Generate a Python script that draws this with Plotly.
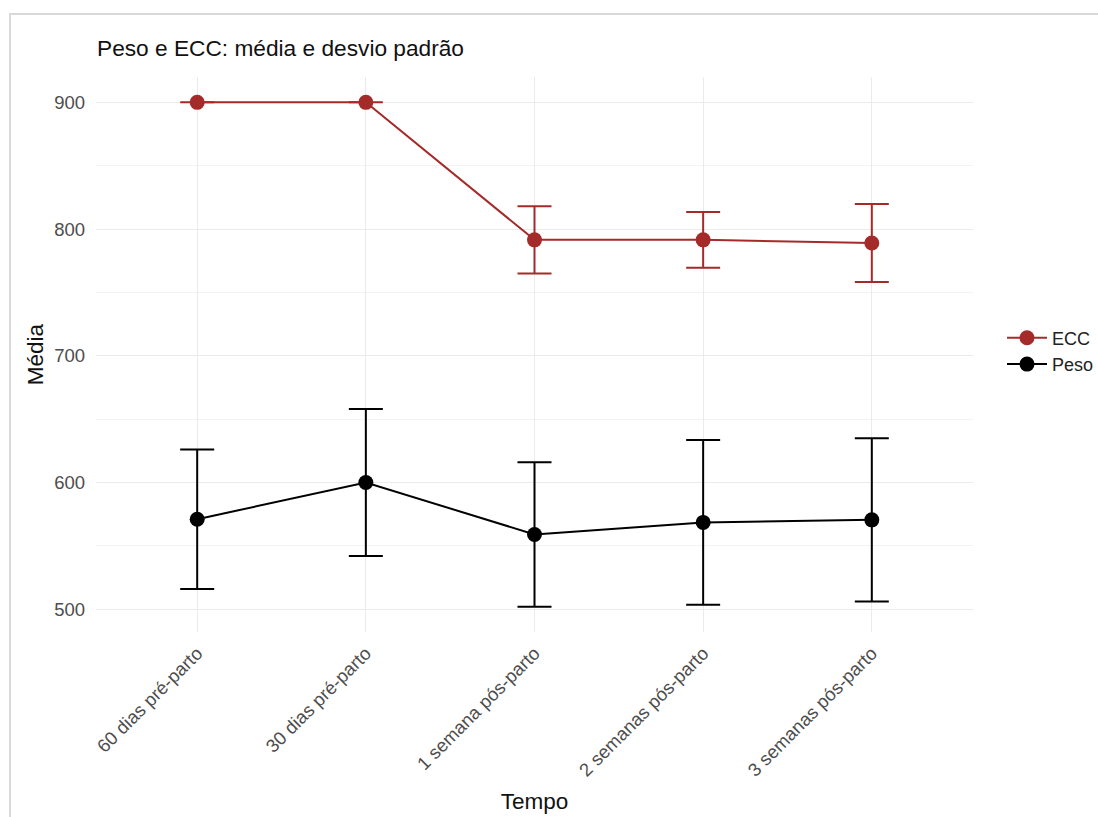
import plotly.graph_objects as go

# Time points of the study
tempo = [
    "60 dias pré-parto",
    "30 dias pré-parto",
    "1 semana pós-parto",
    "2 semanas pós-parto",
    "3 semanas pós-parto",
]

# ECC: mean and standard deviation
ecc_media = [900, 900, 791.5, 791.5, 789]
ecc_dp = [0, 0, 26.5, 22, 30.7]

# Peso: mean and standard deviation
peso_media = [571, 600, 559, 568.5, 570.5]
peso_dp = [55, 58, 57, 65, 64.5]

FONT = "Liberation Sans, Arial, sans-serif"
ECC_COLOR = "#a52a2a"
PESO_COLOR = "#000000"
GRID = "#ebebeb"

fig = go.Figure()

for nome, media, dp, cor in [
    ("ECC", ecc_media, ecc_dp, ECC_COLOR),
    ("Peso", peso_media, peso_dp, PESO_COLOR),
]:
    fig.add_trace(
        go.Scatter(
            x=tempo,
            y=media,
            name=nome,
            mode="lines+markers",
            line=dict(color=cor, width=2),
            marker=dict(color=cor, size=15),
            error_y=dict(
                type="data",
                array=dp,
                visible=True,
                color=cor,
                thickness=2,
                width=17,
            ),
        )
    )

# light frame around the figure
fig.add_shape(
    type="rect",
    xref="paper",
    yref="paper",
    x0=(10 - 96) / 877,
    x1=1.3,
    y0=-0.5,
    y1=(632 - 14) / 555,
    line=dict(color="#d9d9d9", width=2),
    fillcolor="rgba(0,0,0,0)",
    layer="below",
)

fig.update_layout(
    width=1098,
    height=817,
    margin=dict(l=96, r=125, t=77, b=185),
    paper_bgcolor="white",
    plot_bgcolor="white",
    font=dict(family=FONT, color="#4d4d4d", size=18),
    title=dict(
        text="Peso e ECC: média e desvio padrão",
        x=97 / 1098,
        xanchor="left",
        y=1 - 48 / 817,
        yanchor="middle",
        font=dict(family=FONT, size=22.7, color="#111111"),
    ),
    showlegend=True,
    legend=dict(
        xref="container",
        yref="container",
        x=1002 / 1098,
        xanchor="left",
        y=1 - 351 / 817,
        yanchor="middle",
        itemwidth=40,
        font=dict(family=FONT, size=18, color="#222222"),
        bgcolor="rgba(0,0,0,0)",
    ),
    xaxis=dict(
        type="category",
        range=[-0.6, 4.6],
        automargin=False,
        showgrid=True,
        gridcolor=GRID,
        gridwidth=1,
        zeroline=False,
        showline=False,
        ticks="",
        tickangle=-45,
        ticklabelstandoff=6,
        tickfont=dict(family=FONT, size=18.5, color="#4d4d4d"),
        title=dict(text="Tempo", font=dict(family=FONT, size=22.5, color="#111111"), standoff=13),
    ),
    yaxis=dict(
        range=[482, 920],
        dtick=100,
        tick0=500,
        automargin=False,
        showgrid=True,
        gridcolor=GRID,
        gridwidth=1,
        minor=dict(dtick=50, tick0=450, showgrid=True, gridcolor="#f3f3f3", gridwidth=1),
        zeroline=False,
        showline=False,
        ticks="",
        ticklabelstandoff=10,
        tickfont=dict(family=FONT, size=18.5, color="#4d4d4d"),
        title=dict(text="Média", font=dict(family=FONT, size=22.5, color="#111111"), standoff=4),
    ),
)

fig.write_html("out.html")
